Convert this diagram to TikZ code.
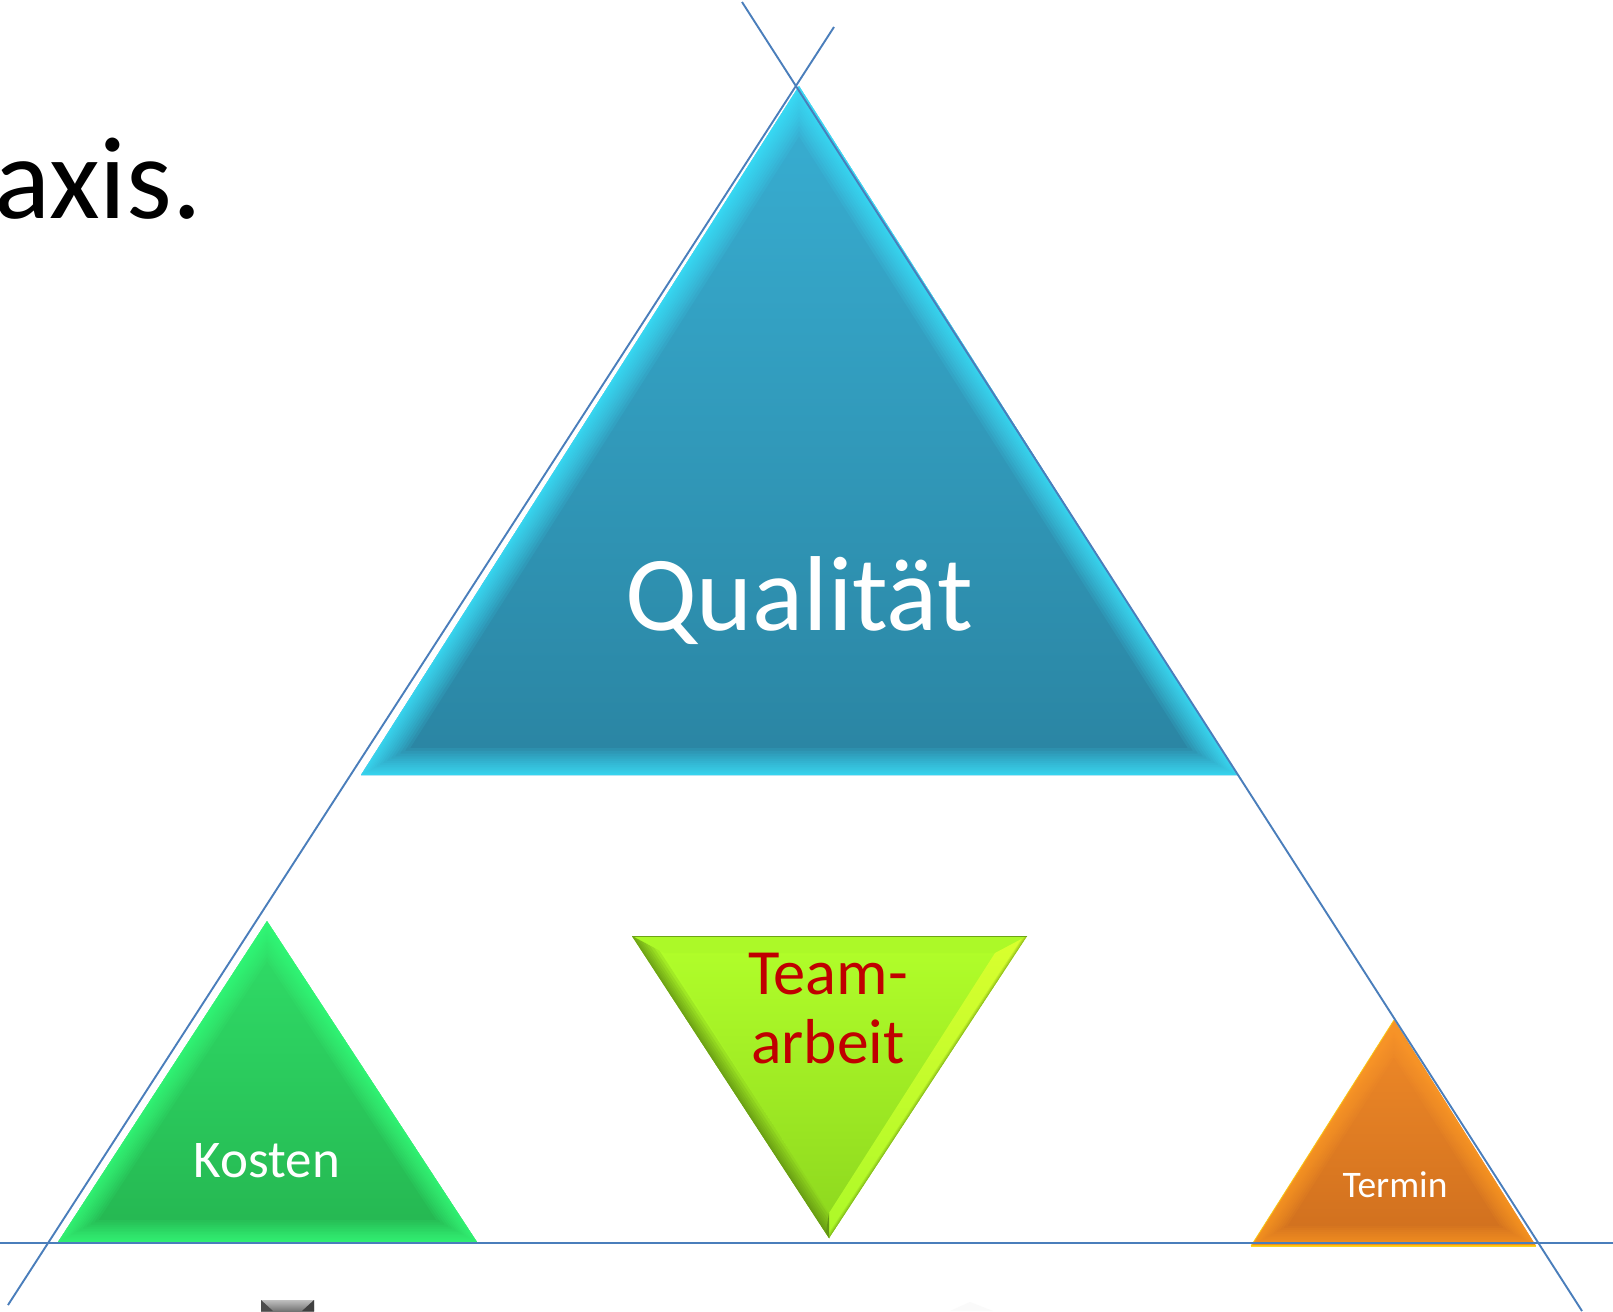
\documentclass[tikz,border=0pt]{standalone}
\usepackage{fontspec}
\setmainfont{Carlito}
\definecolor{linecol}{HTML}{4A7EBB}
\definecolor{qtop}{HTML}{38AFD3}
\definecolor{qbot}{HTML}{2A84A2}
\definecolor{qhi}{HTML}{3FE6FF}
\definecolor{ktop}{HTML}{30DE68}
\definecolor{kbot}{HTML}{25B651}
\definecolor{khi}{HTML}{38FF7C}
\definecolor{ttop}{HTML}{F08A28}
\definecolor{tbot}{HTML}{CF6F1E}
\definecolor{thi}{HTML}{FF9C28}
\definecolor{gtop}{HTML}{B2FF2A}
\definecolor{gbot}{HTML}{8CD61E}
\definecolor{gdark}{HTML}{5F8E12}
\definecolor{teamred}{HTML}{C00000}
\tikzset{
  axisline/.style={draw=linecol,line width=1.9pt},
  labeltext/.style={inner sep=0pt,anchor=base,align=center},
}
% bevelled triangle: corners, top colour, bottom colour, highlight, bevel depth
\newcommand\bevtri[7]{%
  \begin{scope}
    \clip (#1) -- (#2) -- (#3) -- cycle;
    \shade[top color=#4,bottom color=#5] (#1) -- (#2) -- (#3) -- cycle;
    \foreach \k in {1,...,18}{%
      \draw[#6,opacity=0.11,line join=miter,miter limit=20,line width=#7*2*(\k/18)*(\k/18)*1pt]
        (#1) -- (#2) -- (#3) -- cycle;
    }
  \end{scope}}
\begin{document}
\begin{tikzpicture}[x=1pt,y=-1pt]
\useasboundingbox (0,0) rectangle (1613,1311);
\fill[white] (0,0) rectangle (1613,1311);
% corners
\coordinate (qa) at (799,86);
\coordinate (qb) at (1237,775);
\coordinate (qc) at (361,775);
\coordinate (ka) at (267,921);
\coordinate (kb) at (477,1242);
\coordinate (kc) at (58,1242);
\coordinate (ta) at (1394,1020);
\coordinate (tb) at (1536,1246);
\coordinate (tc) at (1251,1246);
\coordinate (ga) at (632,936);
\coordinate (gb) at (1027,936);
\coordinate (gc) at (829,1238);
\coordinate (gia) at (664,953);
\coordinate (gib) at (995,953);
\coordinate (gic) at (829,1213);
% title fragment
\node[labeltext,anchor=base east,font=\fontsize{117}{120}\selectfont] (title) at (202,218) {axis.};
% triangles
\bevtri{qa}{qb}{qc}{qtop}{qbot}{qhi}{27}
\bevtri{ka}{kb}{kc}{ktop}{kbot}{khi}{22}
\bevtri{ta}{tb}{tc}{ttop}{tbot}{thi}{20}
\draw[yellow!80!orange,opacity=.6,line width=1pt] (ta) -- (tc);
\draw[yellow!70!orange,opacity=.8,line width=1.4pt] (tc) -- (tb);
% team triangle
\shade[top color=gtop,bottom color=gbot] (ga) -- (gb) -- (gc) -- cycle;
\fill[gtop!85!gbot] (ga) -- (gb) -- (gib) -- (gia) -- cycle;
\shade[top color=gtop,bottom color=gbot!80!gtop] (ga) -- (gia) -- (gic) -- (gc) -- cycle;
\begin{scope}
  \clip (ga) -- (gia) -- (gic) -- (gc) -- cycle;
  \foreach \k in {1,...,10}{%
    \draw[gdark,opacity=0.16,line width=\k*\k*0.3pt] (ga) -- (gc);
  }
\end{scope}
\begin{scope}
  \clip (gb) -- (gib) -- (gic) -- (gc) -- cycle;
  \shade[top color=yellow!45!gtop!90!white,bottom color=gtop!85!gbot] (gb) -- (gib) -- (gic) -- (gc) -- cycle;
  \foreach \k in {1,...,6}{%
    \draw[gdark,opacity=0.14,line width=\k*\k*0.16pt] (gb) -- (gc);
  }
\end{scope}
\draw[gdark!70!gbot,line width=1pt] (ga) -- (gb);
\fill[gbot!70!black] (gic) -- (gc) -- ++(-3,-6) -- cycle;
% grey fragment at the lower edge
\coordinate (sa) at (261,1300);
\coordinate (sb) at (314,1300);
\coordinate (sc) at (314,1311);
\coordinate (sd) at (261,1311);
\shade[top color=black!25,bottom color=black!55] (sa) -- (sb) -- (sc) -- (sd) -- cycle;
\fill[black!70] (sa) -- (sd) -- (273,1311) -- cycle;
\fill[black!75] (sb) -- (sc) -- (302,1311) -- cycle;
\fill[black!2] (950,1311) -- (970,1302) -- (993,1311) -- cycle;
% labels
\node[labeltext,text=white,font=\fontsize{106.5}{110}\selectfont] (qual) at (799,630) {Qualität};
\node[labeltext,text=white,font=\fontsize{53}{56}\selectfont] (kost) at (267,1177) {Kosten};
\node[labeltext,text=white,font=\fontsize{37.5}{40}\selectfont] (term) at (1395,1197) {Termin};
\node[labeltext,text=teamred,font=\fontsize{64.5}{66}\selectfont] (team) at (828,994) {Team-};
\node[labeltext,text=teamred,font=\fontsize{63.5}{66}\selectfont] (arbeit) at (828,1063) {arbeit};
% axis lines
\coordinate (ls) at (8,1305);
\coordinate (le) at (834,27);
\coordinate (rs) at (742,2);
\coordinate (re) at (1582,1311);
\coordinate (hs) at (0,1243);
\coordinate (he) at (1613,1243);
\draw[axisline] (ls) -- (le);
\draw[axisline] (rs) -- (re);
\draw[axisline,line width=2.4pt] (hs) -- (he);
\end{tikzpicture}
\end{document}
